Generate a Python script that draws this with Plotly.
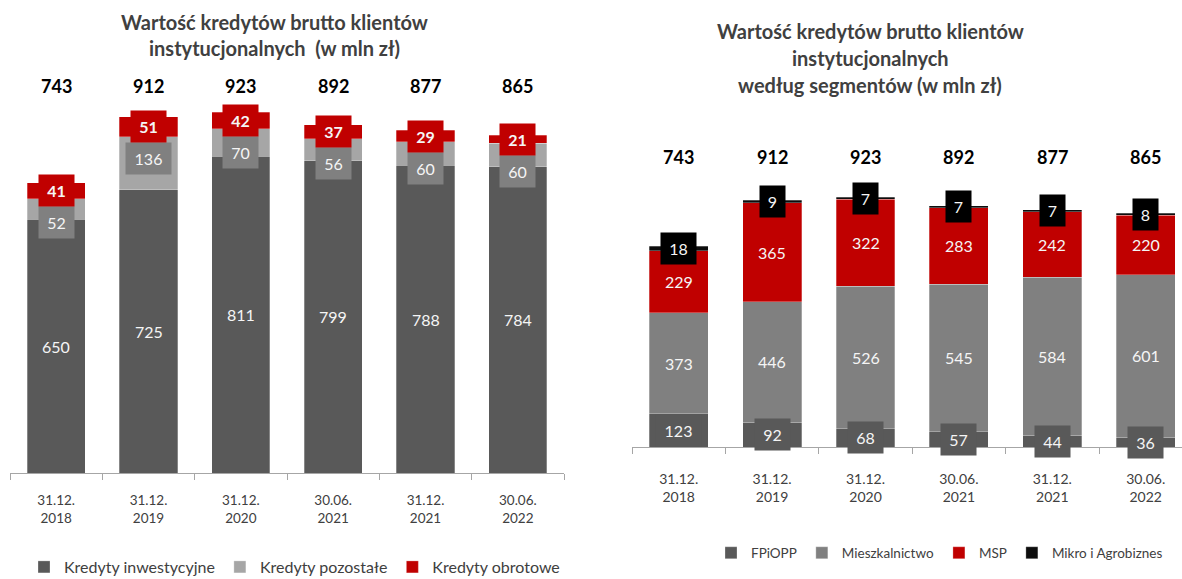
import plotly.graph_objects as go

# ---------------- data ----------------
categories = ["31.12.<br>2018", "31.12.<br>2019", "31.12.<br>2020",
              "30.06.<br>2021", "31.12.<br>2021", "30.06.<br>2022"]

# left chart
inwestycyjne = [650, 725, 811, 799, 788, 784]
pozostale = [52, 136, 70, 56, 60, 60]
obrotowe = [41, 51, 42, 37, 29, 21]

# right chart
fpiopp = [123, 92, 68, 57, 44, 36]
mieszkalnictwo = [373, 446, 526, 545, 584, 601]
msp = [229, 365, 322, 283, 242, 220]
mikro = [18, 9, 7, 7, 7, 8]

left_title = ["Wartość kredytów brutto klientów", "instytucjonalnych  (w mln zł)"]
right_title = ["Wartość kredytów brutto klientów", "instytucjonalnych", "według segmentów (w mln zł)"]

# ---------------- style ----------------
W, H = 1182, 579
FONT = "Lato"
C_DARK = "#595959"
C_MID = "#808080"
C_LIGHT = "#a6a6a6"
C_RED = "#c00000"
C_BLACK = "#0d0d0d"
TXT = "#404040"

# pixel geometry
L_BASE, L_TOP = 473, 82.3      # left plot area (range 0..1000)
R_BASE, R_TOP = 447, 149.5     # right plot area (range 0..1100)

fig = go.Figure()

line = dict(color="rgba(255,255,255,0.35)", width=0.8)

fig.add_bar(x=categories, y=inwestycyjne, name="Kredyty inwestycyjne", marker=dict(color=C_DARK, line=line),
            xaxis="x", yaxis="y", legend="legend")
fig.add_bar(x=categories, y=pozostale, name="Kredyty pozostałe", marker=dict(color=C_LIGHT, line=line),
            xaxis="x", yaxis="y", legend="legend")
fig.add_bar(x=categories, y=obrotowe, name="Kredyty obrotowe", marker=dict(color=C_RED, line=line),
            xaxis="x", yaxis="y", legend="legend")

fig.add_bar(x=categories, y=fpiopp, name="FPiOPP", marker=dict(color=C_DARK, line=line),
            xaxis="x2", yaxis="y2", legend="legend2")
fig.add_bar(x=categories, y=mieszkalnictwo, name="Mieszkalnictwo", marker=dict(color=C_MID, line=line),
            xaxis="x2", yaxis="y2", legend="legend2")
fig.add_bar(x=categories, y=msp, name="MSP", marker=dict(color=C_RED, line=line),
            xaxis="x2", yaxis="y2", legend="legend2")
fig.add_bar(x=categories, y=mikro, name="Mikro i Agrobiznes", marker=dict(color=C_BLACK, line=line),
            xaxis="x2", yaxis="y2", legend="legend2")

ann = []
BOX_H = 31


def seg_label(x, y, text, xr, yr, bg=None, bold=False, size=16, yanchor="middle", yshift=0):
    d = dict(x=x, y=y, xref=xr, yref=yr, text=f"<b>{text}</b>" if bold else str(text),
             showarrow=False, font=dict(family=FONT, size=size, color="#f5f5f5"),
             xanchor="center", yanchor=yanchor, yshift=yshift, valign="middle")
    if bg is not None:
        d.update(bgcolor=bg, width=10 * len(str(text)) + 13, height=BOX_H - 2, borderpad=1)
    ann.append(d)


# left labels
for i, c in enumerate(categories):
    a, b, r = inwestycyjne[i], pozostale[i], obrotowe[i]
    seg_label(c, a / 2, a, "x", "y", size=16)
    # grey label box sits directly under the red label box
    seg_label(c, a + b + r / 2, b, "x", "y", bg=C_MID, size=16, yanchor="top", yshift=-BOX_H / 2)
    seg_label(c, a + b + r / 2, r, "x", "y", bg=C_RED, bold=True, size=16)
    ann.append(dict(x=c, y=990, xref="x", yref="y", text=f"<b>{a + b + r}</b>", showarrow=False,
                    xanchor="center", yanchor="middle",
                    font=dict(family=FONT, size=18, color="#000000")))

# right labels
for i, c in enumerate(categories):
    f, m, s, k = fpiopp[i], mieszkalnictwo[i], msp[i], mikro[i]
    seg_label(c, f / 2, f, "x2", "y2", bg=C_DARK, size=16)
    seg_label(c, f + m / 2, m, "x2", "y2", size=16)
    seg_label(c, f + m + s / 2, s, "x2", "y2", size=16)
    seg_label(c, f + m + s + k / 2, k, "x2", "y2", bg="#000000", size=16)
    ann.append(dict(x=c, y=1072, xref="x2", yref="y2", text=f"<b>{f + m + s + k}</b>", showarrow=False,
                    xanchor="center", yanchor="middle",
                    font=dict(family=FONT, size=18, color="#000000")))

# titles
for j, t in enumerate(left_title):
    ann.append(dict(x=274 / W, y=1 - (22 + 26 * j) / H, xref="paper", yref="paper", text=f"<b>{t}</b>",
                    xanchor="center", yanchor="middle",
                    showarrow=False, font=dict(family=FONT, size=20, color=TXT)))
for j, t in enumerate(right_title):
    ann.append(dict(x=870 / W, y=1 - (31 + 27 * j) / H, xref="paper", yref="paper", text=f"<b>{t}</b>",
                    xanchor="center", yanchor="middle",
                    showarrow=False, font=dict(family=FONT, size=20, color=TXT)))

xcommon = dict(type="category", showline=True, linecolor="#a6a6a6", linewidth=1,
               ticks="outside", tickson="boundaries", ticklen=6, tickcolor="#a6a6a6",
               showgrid=False, zeroline=False, fixedrange=True)
ycommon = dict(showgrid=False, zeroline=False, showticklabels=False, showline=False, fixedrange=True)

R_SPACING = 93.4
fig.update_layout(
    width=W, height=H,
    margin=dict(l=0, r=0, t=0, b=0, pad=0, autoexpand=False),
    paper_bgcolor="white", plot_bgcolor="white",
    barmode="stack", bargap=0.37,
    xaxis=dict(xcommon, domain=[10 / W, 564 / W], anchor="y", range=[-0.5, 5.5],
               tickfont=dict(family=FONT, size=13.5, color=TXT), ticklabelstandoff=15),
    yaxis=dict(ycommon, domain=[1 - L_BASE / H, 1 - L_TOP / H], range=[0, 1000], anchor="x"),
    xaxis2=dict(xcommon, domain=[632 / W, 1.0], anchor="y2",
                range=[-0.5, -0.5 + (W - 632) / R_SPACING],
                tickfont=dict(family=FONT, size=14, color=TXT), ticklabelstandoff=19),
    yaxis2=dict(ycommon, domain=[1 - R_BASE / H, 1 - R_TOP / H], range=[0, 1100], anchor="x2"),
    legend=dict(orientation="h", x=24 / W, xanchor="left", y=1 - 567 / H, yanchor="middle",
                font=dict(family=FONT, size=16, color=TXT), bgcolor="rgba(0,0,0,0)",
                traceorder="normal"),
    legend2=dict(orientation="h", x=711 / W, xanchor="left", y=1 - 553 / H, yanchor="middle",
                 font=dict(family=FONT, size=13.5, color=TXT), bgcolor="rgba(0,0,0,0)",
                 traceorder="normal"),
    annotations=ann,
    showlegend=True,
)

fig.write_html("out.html")
